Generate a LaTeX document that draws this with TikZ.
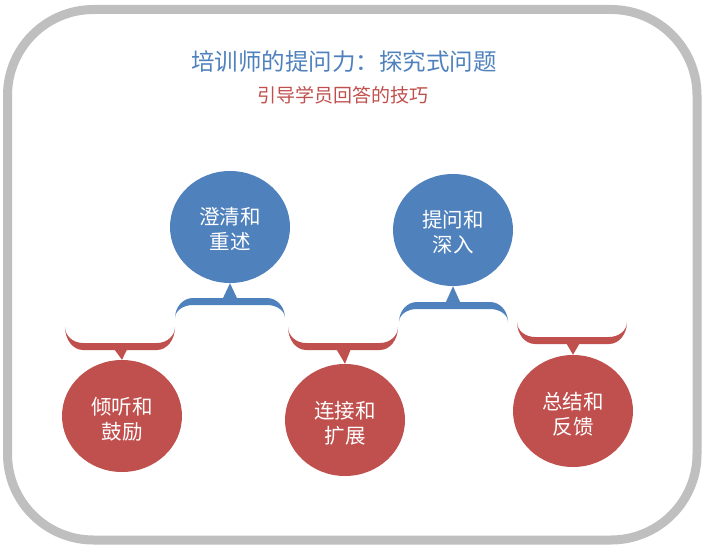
\documentclass[tikz,border=0pt]{standalone}
\usepackage{fontspec}
\usetikzlibrary{shapes.geometric}
\newfontfamily\cjk{Noto Sans CJK SC}
\definecolor{myblue}{HTML}{4F81BD}
\definecolor{myred}{HTML}{C0504D}
\definecolor{mygray}{HTML}{BFBFBF}
\newcommand{\brk}[6]{%
  \pgfmathsetmacro\yin{#4-(#5)}%
  \pgfmathsetmacro\xa{#1+18}\pgfmathsetmacro\xb{#2-18}%
  \pgfmathsetmacro\ko{#3+0.55*(#4-#3)}%
  \pgfmathsetmacro\ki{#3+0.55*(\yin-#3)}%
  \pgfmathsetmacro\xka{#1+8}\pgfmathsetmacro\xkb{#2-8}%
  \fill[#6] (#1,#3) .. controls (#1,\ko) and (\xka,#4) .. (\xa,#4) -- (\xb,#4)
    .. controls (\xkb,#4) and (#2,\ko) .. (#2,#3)
    .. controls (#2,\ki) and (\xkb,\yin) .. (\xb,\yin) -- (\xa,\yin)
    .. controls (\xka,\yin) and (#1,\ki) .. cycle;
}
\tikzset{
  bubble/.style={ellipse, minimum width=120pt, minimum height=112pt, inner sep=0pt,
    text=white, font=\cjk\fontsize{20.5pt}{25pt}\selectfont, align=center},
  bluebubble/.style={bubble, fill=myblue},
  redbubble/.style={bubble, fill=myred},
  bubbletext/.style={text=white, font=\cjk\fontsize{20.5pt}{25pt}\selectfont, align=center, inner sep=0pt},
}
\begin{document}
\begin{tikzpicture}[x=1pt,y=-1pt]
\useasboundingbox (0,0) rectangle (708,548);
\draw[mygray, line width=9pt, rounded corners=86pt] (7.5,9.5) rectangle (697,540);
\node[text=myblue, font=\cjk\fontsize{23.5pt}{28pt}\selectfont] (title) at (344,62) {培训师的提问力：探究式问题};
\node[text=myred, font=\cjk\fontsize{19pt}{23pt}\selectfont] (sub) at (343,95) {引导学员回答的技巧};
% circles
\node[bluebubble] (b1) at (230,227) {};
\node[bubbletext] (b1t) at (230,229.5) {澄清和\\重述};
\node[bluebubble] (b2) at (453,230) {};
\node[bubbletext] (b2t) at (453,232.5) {提问和\\深入};
\node[redbubble] (r1) at (122,416) {};
\node[bubbletext] (r1t) at (122,419) {倾听和\\鼓励};
\node[redbubble] (r2) at (345,420) {};
\node[bubbletext] (r2t) at (345,423) {连接和\\扩展};
\node[redbubble] (r3) at (573,411) {};
\node[bubbletext] (r3t) at (573,414) {总结和\\反馈};
% brackets
\brk{65}{175}{327}{350}{7}{myred}
\fill[myred] (110,343.5) -- (130,343.5) -- (r1.north) -- cycle;
\brk{175}{285}{318}{298}{-7}{myblue}
\fill[myblue] (220,304.5) -- (240,304.5) -- (b1.south) -- cycle;
\brk{288}{398}{327}{350}{7}{myred}
\fill[myred] (333,343.5) -- (353,343.5) -- (r2.north) -- cycle;
\brk{399}{508}{322}{302}{-7}{myblue}
\fill[myblue] (443,308.5) -- (463,308.5) -- (b2.south) -- cycle;
\brk{517}{627}{322}{344}{7}{myred}
\fill[myred] (563,337.5) -- (583,337.5) -- (r3.north) -- cycle;
\end{tikzpicture}
\end{document}
